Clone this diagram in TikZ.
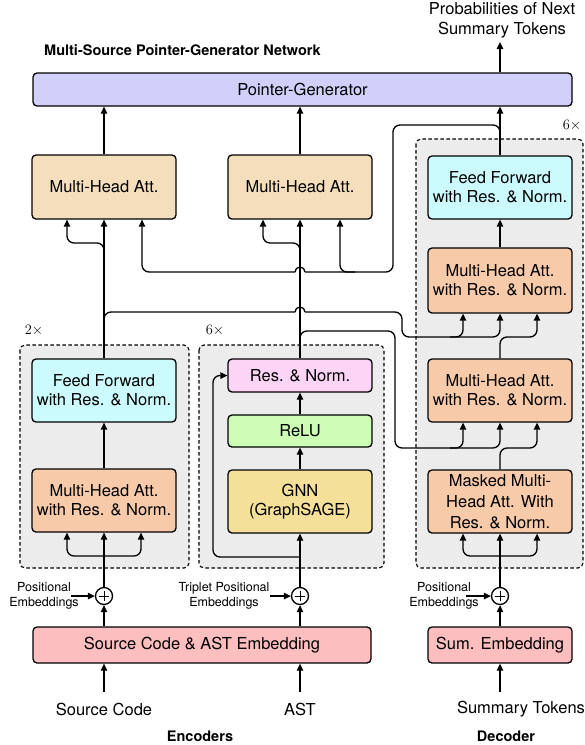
\documentclass[tikz,border=0pt]{standalone}
\usepackage{fontspec}
\setmainfont{TeX Gyre Heros}
\usetikzlibrary{arrows.meta}
\definecolor{pgc}{RGB}{208,208,250}
\definecolor{tanc}{RGB}{245,222,188}
\definecolor{salc}{RGB}{247,203,170}
\definecolor{cyac}{RGB}{204,251,253}
\definecolor{pinc}{RGB}{252,212,246}
\definecolor{grnc}{RGB}{205,252,180}
\definecolor{yelc}{RGB}{245,224,154}
\definecolor{embc}{RGB}{252,190,190}
\definecolor{grpc}{RGB}{236,236,236}
\begin{document}
\begin{tikzpicture}[x=1pt,y=-1pt,
  box/.style={draw=black,line width=1.3pt,rounded corners=4pt,minimum width=144pt,minimum height=63pt,align=center,inner sep=0pt,font=\fontsize{16.5}{19}\selectfont},
  arr/.style={line width=1.3pt,-{Triangle[length=7pt,width=6.5pt]}},
  arrtwo/.style={line width=1.3pt,{Triangle[length=7pt,width=6.5pt]}-{Triangle[length=7pt,width=6.5pt]}},
  ln/.style={line width=1.3pt},
  grp/.style={draw=black,line width=1.1pt,dash pattern=on 3.5pt off 2.5pt,fill=grpc,rounded corners=5pt},
  small/.style={font=\fontsize{12.5}{15}\selectfont,align=center,inner sep=0pt},
  lbl/.style={font=\fontsize{16.5}{20}\selectfont,align=center,inner sep=0pt},
  ttl/.style={font=\bfseries\fontsize{14.5}{16}\selectfont,inner sep=0pt},
  rep/.style={font=\fontsize{14}{14}\selectfont,inner sep=0pt},
  plus/.style={circle,draw=black,fill=white,line width=1.3pt,minimum size=17pt,inner sep=0pt,
    path picture={\draw[line width=1pt] ([xshift=-5pt]path picture bounding box.center) -- ([xshift=5pt]path picture bounding box.center);
                  \draw[line width=1pt] ([yshift=-5pt]path picture bounding box.center) -- ([yshift=5pt]path picture bounding box.center);}},
  rc/.style={rounded corners=7pt}
]
\useasboundingbox (0,0) rectangle (585,745);

% group boxes
\draw[grp] (20,345) rectangle (189,568);
\draw[grp] (199,345) rectangle (384,568);
\draw[grp] (416,139) rectangle (583,568);
\node[rep] (rep1) at (34,330) {$2\times$};
\node[rep] (rep2) at (215,330) {$6\times$};
\node[rep] (rep3) at (572,125) {$6\times$};

% titles
\node[lbl] (prob) at (502,20) {Probabilities of Next\\Summary Tokens};
\coordinate (probin) at (500,42);
\node[ttl,anchor=west] (mspg) at (44,50) {Multi-Source Pointer-Generator Network};

% boxes
\node[box,fill=pgc,minimum width=539pt,minimum height=33pt] (pg) at (302.5,89.5) {Pointer-Generator};
\node[box,fill=tanc,minimum height=64pt] (mha1) at (104,187) {Multi-Head Att.};
\node[box,fill=tanc,minimum height=64pt] (mha2) at (300,187) {Multi-Head Att.};
\node[box,fill=cyac] (dff) at (500,187.5) {Feed Forward\\with Res. \& Norm.};
\node[box,fill=salc,minimum height=65pt] (dmha2) at (500,280.5) {Multi-Head Att.\\with Res. \& Norm.};
\node[box,fill=cyac] (sff) at (104,390.5) {Feed Forward\\with Res. \& Norm.};
\node[box,fill=salc] (dmha1) at (500,390.5) {Multi-Head Att.\\with Res. \& Norm.};
\node[box,fill=pinc,minimum height=33pt] (res) at (300,375.5) {Res. \& Norm.};
\node[box,fill=grnc,minimum height=32pt] (relu) at (300,431) {ReLU};
\node[box,fill=salc] (smha) at (104,500.5) {Multi-Head Att.\\with Res. \& Norm.};
\node[box,fill=yelc] (gnn) at (300,501.5) {GNN\\(GraphSAGE)};
\node[box,fill=salc,font=\fontsize{16.5}{21}\selectfont] (dmask) at (500,501.5) {Masked Multi-\\Head Att. With\\Res. \& Norm.};
\node[box,fill=embc,minimum width=338pt,minimum height=36pt] (emb) at (202,645) {Source Code \& AST Embedding};
\node[box,fill=embc,minimum height=36pt] (semb) at (500,645) {Sum. Embedding};

\node[plus] (plus1) at (104,596) {};
\node[plus] (plus2) at (300,596) {};
\node[plus] (plus3) at (500,596) {};

\node[small] (pos1) at (44,596) {Positional\\Embeddings};
\node[small] (pos2) at (224,596) {Triplet Positional\\Embeddings};
\node[small] (pos3) at (444,596) {Positional\\Embeddings};

\node[lbl] (src) at (104,709) {Source Code};
\node[lbl] (ast) at (300,709) {AST};
\node[lbl] (sumt) at (521,709) {Summary Tokens};
\coordinate (srctop) at (104,692);
\coordinate (asttop) at (300,692);
\coordinate (sumtop) at (500,692);
\node[ttl] (enc) at (200,736) {Encoders};
\node[ttl] (dec) at (506,736) {Decoder};

% bottom inputs
\draw[arr] (srctop) -- (emb.south -| srctop);
\draw[arr] (asttop) -- (emb.south -| asttop);
\draw[arr] (sumtop) -- (semb.south);
\draw[arr] (emb.north -| plus1) -- (plus1.south);
\draw[arr] (emb.north -| plus2) -- (plus2.south);
\draw[arr] (semb.north) -- (plus3.south);
\draw[arr] ([xshift=-8pt]pos1.east) -- (plus1.west);
\draw[arr] (pos2.east) -- (plus2.west);
\draw[arr] ([xshift=-13pt]pos3.east) -- (plus3.west);

% source encoder
\draw[arr] (plus1.north) -- (smha.south);
\draw[arrtwo,rc] ([xshift=-37pt]smha.south) -- (67,556) -- (141,556) -- ([xshift=37pt]smha.south);
\draw[arr] (smha.north) -- (sff.south);
\draw[arr] (sff.north) -- (mha1.south);
\draw[arr,rc] (104,252) -- (104,243) -- (67,243) -- ([xshift=-37pt]mha1.south);
\draw[arr] (mha1.north) -- (mha1.north |- pg.south);

% graph encoder
\draw[arr] (plus2.north) -- (gnn.south);
\draw[arr,rc] (300,557) -- (213,557) -- (213,375.5) -- (res.west);
\draw[arr] (gnn.north) -- (relu.south);
\draw[arr] (relu.north) -- (res.south);
\draw[arr] (res.north) -- (mha2.south);
\draw[arr,rc] (300,252) -- (300,243) -- (263,243) -- ([xshift=-37pt]mha2.south);
\draw[arr] (mha2.north) -- (mha2.north |- pg.south);

% decoder
\draw[arr] (plus3.north) -- (dmask.south);
\draw[arrtwo,rc] ([xshift=-37pt]dmask.south) -- (463,556) -- (537,556) -- ([xshift=37pt]dmask.south);
\draw[arr,rc] (dmask.north) -- (500,448) -- (537,448) -- ([xshift=37pt]dmha1.south);
\draw[arr,rc] (dmha1.north) -- (500,337) -- (537,337) -- ([xshift=37pt]dmha2.south);
\draw[arr] (dmha2.north) -- (dff.south);
\draw[arr] (dff.north) -- (dff.north |- pg.south);
\draw[arr] (pg.north -| probin) -- (probin);

% graph output to decoder
\draw[arr,rc] (300,340) -- (300,331) -- (395,331) -- (395,448) -- (463,448) -- ([xshift=-37pt]dmha1.south);
\draw[arr,rc] (450,448) -- (500,448) -- (dmha1.south);

% source output to decoder
\draw[ln,rc] (104,322) -- (104,312) -- (295,312);
\draw[ln] (295,312) arc[start angle=180,end angle=0,radius=5pt];
\draw[arr,rc] (305,312) -- (402,312) -- (402,337) -- (463,337) -- ([xshift=-37pt]dmha2.south);
\draw[arr,rc] (450,337) -- (500,337) -- (dmha2.south);

% decoder output to encoder-side attention
\draw[ln,rc] ([yshift=16pt]dff.north) -- (500,125) -- (393,125) -- (393,272) -- (305,272);
\draw[ln] (305,272) arc[start angle=0,end angle=180,radius=5pt];
\draw[arr,rc] (295,272) -- (142,272) -- ([xshift=38pt]mha1.south);
\draw[arr,rc] (355,272) -- (340,272) -- ([xshift=40pt]mha2.south);
\end{tikzpicture}
\end{document}
